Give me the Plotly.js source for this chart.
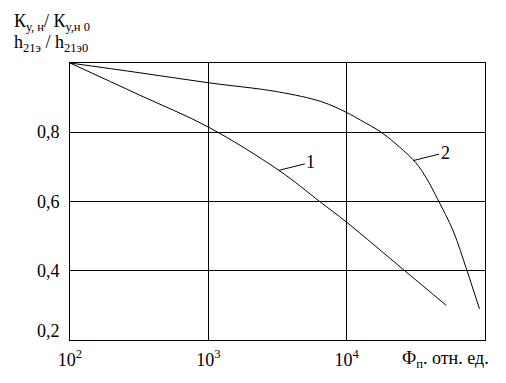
<!DOCTYPE html>
<html>
<head>
<meta charset="utf-8">
<script src="https://cdn.plot.ly/plotly-3.0.1.min.js"></script>
<style>html,body{margin:0;padding:0;background:#fff;}#chart{width:506px;height:383px;}</style>
</head>
<body>
<div id="chart"></div>
<script>
// Curve 1 (Φп, relative value)
const curve1X = [100, 316, 1000, 3236, 6383, 10000, 26303, 52481];
const curve1Y = [1.0, 0.908, 0.815, 0.69, 0.60, 0.54, 0.40, 0.30];
// Curve 2
const curve2X = [100, 316, 1000, 3162, 6607, 10000, 12589, 17783, 23988, 31623, 38019, 45709, 58884, 74131, 91201];
const curve2Y = [1.0, 0.972, 0.943, 0.917, 0.888, 0.857, 0.835, 0.80, 0.758, 0.712, 0.665, 0.605, 0.515, 0.40, 0.29];

const xTickVals = [100, 1000, 10000];
const xTickText = ['10<sup>2</sup>', '10<sup>3</sup>', '10<sup>4</sup>'];
const yTickVals = [0.2, 0.4, 0.6, 0.8];
const yTickText = ['0,2', '0,4', '0,6', '0,8'];

const curveLabels = ['1', '2'];
const labelAtX = [3236, 30200];
const labelAtY = [0.69, 0.718];

const yTitle1 = 'К<sub>у, н</sub>/ К<sub>у,н 0</sub>';
const yTitle2 = 'h<sub>21э</sub> / h<sub>21э0</sub>';
const xTitle = 'Ф<sub>п</sub>. отн. ед.';

const FONT = {family: 'Liberation Serif, Times New Roman, serif', size: 18, color: '#000'};

const traces = [
  {x: curve1X, y: curve1Y, type: 'scatter', mode: 'lines', line: {color: '#000', width: 1, shape: 'spline', smoothing: 1}, hoverinfo: 'skip'},
  {x: curve2X, y: curve2Y, type: 'scatter', mode: 'lines', line: {color: '#000', width: 1, shape: 'spline', smoothing: 1}, hoverinfo: 'skip'}
];

const annotations = [];
yTickVals.forEach((v, i) => {
  annotations.push({xref: 'paper', yref: 'y', x: 0, y: v, xanchor: 'right', yanchor: 'middle',
    xshift: -8, yshift: i === 0 ? 9 : 0, text: yTickText[i], showarrow: false, font: FONT});
});
curveLabels.forEach((t, i) => {
  annotations.push({x: Math.log10(labelAtX[i]), y: labelAtY[i], xref: 'x', yref: 'y', text: t,
    showarrow: true, arrowhead: 0, arrowwidth: 1, arrowcolor: '#000', ax: 32, ay: -8, standoff: 0, font: FONT});
});
annotations.push({xref: 'paper', yref: 'paper', x: -0.14, y: 1.148, xanchor: 'left', yanchor: 'middle', text: yTitle1, showarrow: false, font: FONT});
annotations.push({xref: 'paper', yref: 'paper', x: -0.14, y: 1.07, xanchor: 'left', yanchor: 'middle', text: yTitle2, showarrow: false, font: FONT});
annotations.push({xref: 'paper', yref: 'paper', x: 0.795, y: -0.07, xanchor: 'left', yanchor: 'middle', text: xTitle, showarrow: false, font: FONT});

const layout = {
  width: 506, height: 383,
  margin: {l: 70, r: 21, t: 63, b: 43},
  paper_bgcolor: '#fff', plot_bgcolor: '#fff',
  showlegend: false,
  font: FONT,
  xaxis: {type: 'log', range: [2, 5], tickvals: xTickVals, ticktext: xTickText, ticks: 'outside', ticklen: 3, tickcolor: 'rgba(0,0,0,0)',
    showgrid: true, gridcolor: '#000', gridwidth: 1.3, showline: true, mirror: true, linecolor: '#000', linewidth: 1.3,
    zeroline: false, tickfont: FONT, fixedrange: true},
  yaxis: {range: [0.2, 1.0], tickvals: [0.2, 0.4, 0.6, 0.8, 1.0], showticklabels: false, ticks: '',
    showgrid: true, gridcolor: '#000', gridwidth: 1.3, showline: true, mirror: true, linecolor: '#000', linewidth: 1.3,
    zeroline: false, fixedrange: true},
  annotations: annotations
};

Plotly.newPlot('chart', traces, layout, {staticPlot: true, displayModeBar: false});
</script>
</body>
</html>
